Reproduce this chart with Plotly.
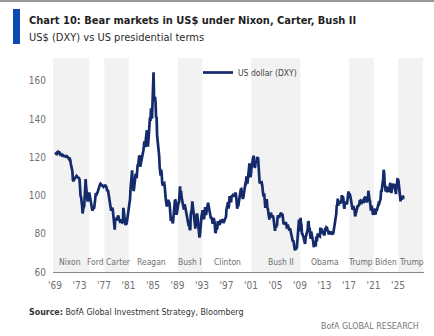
import plotly.graph_objects as go
import pandas as pd

# US dollar index (DXY), monthly values, Jan 1969 onward
dxy_1969_1978 = [
    121.5, 122.0, 121.8, 122.3, 121.9, 122.5, 122.8, 122.4, 123.2, 122.0, 121.5, 121.8,
    121.5, 121.2, 121.0, 121.3, 120.8, 120.9, 120.6, 120.7, 120.5, 120.4, 120.3, 120.6,
    120.5, 120.1, 119.8, 119.5, 118.9, 119.2, 118.6, 116.5, 114.8, 113.5, 112.8, 108.2,
    107.5, 108.2, 108.6, 108.9, 109.1, 109.8, 110.3, 110.0, 109.6, 109.4, 109.5, 109.1,
    108.4, 100.5, 99.8, 99.3, 97.5, 94.8, 90.6, 93.4, 94.2, 93.9, 98.9, 101.6,
    108.6, 104.1, 100.3, 98.2, 96.9, 98.4, 99.2, 101.6, 99.5, 96.8, 96.0, 95.5,
    93.8, 92.2, 92.6, 94.5, 93.1, 94.0, 97.6, 100.9, 101.3, 101.0, 100.8, 101.4,
    102.5, 102.9, 104.6, 104.9, 105.7, 106.2, 106.0, 105.9, 105.3, 105.0, 105.2, 104.6,
    105.0, 105.4, 105.3, 105.2, 104.7, 104.2, 102.4, 102.9, 102.4, 100.5, 99.4, 97.0,
    95.3, 94.6, 92.1, 92.9, 93.5, 93.0, 89.9, 87.1, 86.8, 82.2, 88.2, 87.5,
]
dxy_1979_1988 = [
    86.9, 87.6, 88.1, 89.0, 89.6, 88.0, 86.9, 86.7, 85.7, 87.5, 87.0, 86.3,
    85.9, 86.1, 93.6, 90.2, 86.7, 85.1, 84.5, 85.8, 84.9, 86.6, 88.7, 90.7,
    92.3, 95.4, 96.0, 98.1, 103.5, 106.8, 110.9, 113.2, 106.2, 104.5, 102.4, 104.2,
    106.5, 108.6, 111.3, 110.9, 109.1, 114.5, 116.4, 115.8, 118.7, 120.9, 120.6, 115.1,
    116.5, 117.2, 118.5, 119.1, 120.8, 123.5, 125.6, 128.4, 126.5, 125.3, 129.7, 133.3,
    134.2, 128.5, 125.6, 128.7, 133.5, 134.1, 140.8, 139.1, 145.7, 144.0, 140.2, 148.6,
    155.2, 164.5, 152.3, 150.5, 151.6, 148.7, 140.8, 141.2, 131.5, 129.5, 125.4, 122.5,
    120.8, 115.0, 113.3, 110.5, 113.5, 111.6, 106.8, 105.2, 105.6, 106.3, 106.5, 104.5,
    98.4, 98.2, 96.3, 94.3, 95.2, 96.9, 97.8, 96.4, 96.6, 94.0, 89.0, 86.7,
    88.7, 88.2, 86.2, 85.5, 88.6, 93.1, 97.0, 97.8, 97.6, 93.5, 89.9, 91.3,
]
dxy_1989_1998 = [
    94.5, 94.0, 96.4, 96.5, 102.7, 104.8, 98.1, 102.5, 99.2, 97.4, 95.9, 93.6,
    93.3, 92.9, 95.5, 94.2, 92.7, 92.9, 89.9, 88.5, 88.3, 84.7, 84.1, 84.5,
    82.0, 82.3, 90.3, 91.9, 92.6, 97.0, 94.8, 94.1, 90.6, 89.6, 86.0, 82.7,
    86.1, 89.1, 90.6, 89.6, 86.5, 83.5, 81.2, 78.0, 79.5, 85.2, 89.0, 89.2,
    90.4, 92.3, 91.7, 88.2, 87.7, 90.1, 94.0, 91.0, 89.8, 91.9, 93.2, 93.1,
    96.2, 94.6, 92.6, 92.0, 90.7, 88.5, 88.4, 88.2, 86.7, 85.3, 87.4, 88.3,
    87.0, 85.3, 80.6, 80.8, 82.7, 82.2, 83.0, 86.7, 85.1, 85.2, 84.8, 84.8,
    87.4, 85.8, 86.3, 87.0, 87.6, 87.5, 85.6, 86.1, 87.3, 87.9, 88.2, 88.9,
    92.8, 95.1, 94.5, 96.6, 93.2, 95.0, 99.8, 98.6, 97.5, 96.4, 99.6, 99.7,
    100.3, 99.9, 101.0, 99.4, 100.2, 101.1, 101.5, 99.5, 94.5, 93.1, 95.6, 94.2,
]
dxy_1999_2008 = [
    96.4, 99.2, 100.6, 101.4, 103.2, 103.4, 100.1, 100.6, 98.2, 99.2, 101.7, 101.9,
    105.0, 106.3, 106.2, 110.0, 109.3, 106.3, 108.2, 110.6, 113.7, 116.8, 115.0, 109.6,
    111.6, 114.5, 117.2, 117.3, 119.5, 120.9, 118.0, 114.7, 115.0, 117.4, 117.9, 117.1,
    120.2, 119.5, 119.4, 116.1, 112.1, 106.3, 107.1, 107.0, 106.6, 106.8, 105.3, 102.2,
    100.4, 100.5, 100.5, 97.4, 93.6, 95.0, 96.8, 98.1, 93.6, 93.3, 91.1, 87.4,
    87.4, 89.1, 88.4, 91.1, 88.9, 88.7, 89.2, 89.1, 88.3, 85.2, 82.8, 81.5,
    83.8, 83.1, 84.6, 84.2, 88.6, 89.6, 89.0, 88.3, 89.4, 90.0, 91.2, 91.1,
    89.2, 90.5, 89.7, 85.4, 85.0, 85.5, 85.4, 85.1, 86.1, 85.4, 83.5, 83.7,
    84.8, 83.9, 82.9, 81.8, 82.1, 82.2, 80.5, 81.2, 78.0, 76.8, 75.8, 76.7,
    75.4, 73.4, 71.3, 72.8, 72.6, 72.5, 73.1, 77.1, 79.6, 86.2, 87.4, 81.3,
]
dxy_2009_2018 = [
    86.1, 88.4, 85.5, 84.6, 79.5, 80.1, 78.7, 78.3, 76.8, 76.2, 74.7, 77.9,
    79.5, 80.4, 81.1, 81.8, 86.4, 86.2, 82.0, 83.1, 79.2, 77.4, 81.2, 79.0,
    78.0, 76.9, 75.9, 73.0, 74.6, 74.3, 74.0, 74.2, 78.6, 76.1, 78.5, 80.2,
    79.1, 78.9, 79.0, 78.6, 83.2, 81.6, 82.7, 81.2, 79.9, 79.9, 80.2, 79.8,
    79.1, 82.3, 83.0, 81.8, 83.3, 83.1, 81.4, 82.0, 80.2, 80.2, 80.7, 80.0,
    81.3, 79.7, 80.1, 79.5, 80.4, 79.8, 81.5, 82.8, 86.0, 87.0, 88.4, 90.3,
    94.8, 95.3, 98.4, 94.6, 96.9, 95.5, 97.3, 96.0, 96.4, 96.9, 100.2, 98.7,
    99.6, 98.2, 94.6, 93.1, 95.9, 96.1, 95.5, 96.0, 95.4, 98.5, 101.5, 102.2,
    99.5, 101.1, 100.4, 99.1, 96.9, 95.6, 92.9, 92.7, 93.1, 94.5, 93.0, 92.1,
    89.1, 90.6, 90.2, 91.8, 94.0, 94.5, 94.5, 95.1, 95.1, 97.1, 97.3, 96.2,
]
dxy_2019_2025 = [
    95.6, 96.2, 97.3, 97.5, 97.8, 96.1, 98.5, 98.9, 99.4, 97.4, 98.3, 96.4,
    97.4, 98.1, 102.5, 99.0, 98.3, 97.4, 93.4, 92.1, 93.9, 94.0, 91.9, 89.9,
    90.6, 90.9, 93.2, 91.3, 90.0, 92.4, 92.2, 92.6, 94.2, 94.1, 95.9, 95.7,
    96.5, 96.7, 98.3, 102.9, 101.8, 104.7, 105.9, 108.7, 113.5, 111.5, 106.0, 103.5,
    102.1, 104.9, 102.5, 101.7, 104.3, 102.9, 101.9, 103.6, 106.2, 106.7, 103.5, 101.3,
    103.3, 104.2, 104.5, 106.2, 104.7, 105.9, 104.1, 101.7, 100.8, 104.0, 105.7, 108.5,
    108.4, 107.6, 104.2, 99.5, 99.3, 96.9, 99.9, 97.8, 97.8, 99.8, 99.5, 98.3,
]
dxy = (dxy_1969_1978 + dxy_1979_1988 + dxy_1989_1998
       + dxy_1999_2008 + dxy_2009_2018 + dxy_2019_2025)
dates = pd.date_range("1969-01-01", periods=len(dxy), freq="MS")

# Shaded presidential terms (start, end)
shaded_terms = [
    ("1968-09-01", "1974-08-09"),   # Nixon
    ("1977-01-20", "1981-01-20"),   # Carter
    ("1989-01-20", "1993-01-20"),   # Bush I
    ("2001-01-20", "2009-01-20"),   # Bush II
    ("2017-01-20", "2021-01-20"),   # Trump
    ("2025-01-20", "2029-01-20"),   # Trump
]

# President name labels and their x positions
president_names = ["Nixon", "Ford", "Carter", "Reagan", "Bush I", "Clinton",
                   "Bush II", "Obama", "Trump", "Biden", "Trump"]
president_label_x = ["1971-06-01", "1975-09-01", "1979-05-01", "1984-10-01",
                     "1991-01-01", "1997-03-01", "2005-11-01", "2013-03-01",
                     "2018-11-01", "2023-01-01", "2027-03-01"]

tick_years = list(range(1969, 2026, 4))
tick_labels = ["'" + str(y)[2:] for y in tick_years]
y_ticks = [60, 80, 100, 120, 140, 160]

LINE = "#142a6b"
GREY_TXT = "#707070"
NARROW = "DejaVu Sans Condensed"

fig = go.Figure()
fig.add_trace(go.Scatter(
    x=dates, y=dxy, mode="lines", name="US dollar (DXY)",
    line=dict(color=LINE, width=2.7),
))

for x0, x1 in shaded_terms:
    fig.add_vrect(x0=x0, x1=x1, fillcolor="#f2f2f2", line_width=0, layer="below")

for name, xp in zip(president_names, president_label_x):
    fig.add_annotation(x=xp, y=65, text=name, showarrow=False,
                       font=dict(size=8.5, color=GREY_TXT, family=NARROW),
                       xanchor="center", yanchor="middle")

# Header: accent bar, top rule, title, subtitle
fig.add_shape(type="rect", xref="paper", yref="paper",
              x0=-40 / 371, x1=-33 / 371, y0=(336 - 64 - 44) / 214, y1=(336 - 64 - 9) / 214,
              fillcolor="#0b4ab5", line_width=0)
fig.add_shape(type="rect", xref="paper", yref="paper",
              x0=-53 / 371, x1=381 / 371, y0=(336 - 64 - 2) / 214, y1=(336 - 64) / 214,
              fillcolor="#9a9a9a", line_width=0)
fig.add_annotation(xref="paper", yref="paper", x=-26 / 371, y=(336 - 64 - 12) / 214,
                   text="<b>Chart 10: Bear markets in US$ under Nixon, Carter, Bush II</b>",
                   showarrow=False, xanchor="left", yanchor="top",
                   font=dict(size=11, color="#1f1f1f", family=NARROW))
fig.add_annotation(xref="paper", yref="paper", x=-26 / 371, y=(336 - 64 - 29) / 214,
                   text="US$ (DXY) vs US presidential terms",
                   showarrow=False, xanchor="left", yanchor="top",
                   font=dict(size=11, color="#2b2b2b", family=NARROW))

# Footer
fig.add_annotation(xref="paper", yref="paper", x=-26 / 371, y=-(312 - 272) / 214,
                   text="<b>Source:</b> BofA Global Investment Strategy, Bloomberg",
                   showarrow=False, xanchor="left", yanchor="middle",
                   font=dict(size=8.8, color="#333333", family=NARROW))
fig.add_annotation(xref="paper", yref="paper", x=(421 - 53) / 371, y=-(326 - 272) / 214,
                   text="BofA GLOBAL RESEARCH",
                   showarrow=False, xanchor="right", yanchor="middle",
                   font=dict(size=8.8, color="#777777", family=NARROW))

fig.update_layout(
    width=434, height=336,
    margin=dict(l=53, r=10, t=58, b=64),
    paper_bgcolor="white", plot_bgcolor="white",
    showlegend=True,
    legend=dict(x=(198 - 53) / 371, y=1.0, xanchor="left", yanchor="top",
                bgcolor="rgba(0,0,0,0)",
                font=dict(size=8.5, color="#444444", family=NARROW),
                itemwidth=30, tracegroupgap=0),
    font=dict(family=NARROW, color=GREY_TXT),
)
fig.update_xaxes(
    type="date", range=["1968-09-01", "2029-04-01"],
    tickvals=[f"{y}-01-01" for y in tick_years], ticktext=tick_labels,
    showgrid=False, showline=True, linecolor="#8a8a8a", linewidth=1,
    ticks="", tickfont=dict(size=10, color=GREY_TXT, family=NARROW), zeroline=False,
    ticklabelstandoff=4,
)
fig.update_yaxes(
    range=[60, 172], tickvals=y_ticks, showgrid=False, showline=False,
    ticks="", tickfont=dict(size=10, color=GREY_TXT, family=NARROW), zeroline=False,
    ticklabelstandoff=6,
)

fig.write_html("out.html")
